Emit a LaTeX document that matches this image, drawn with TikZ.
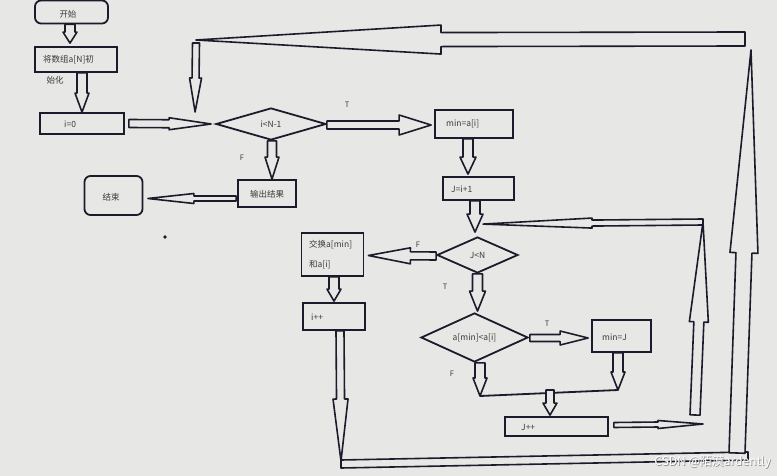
\documentclass[tikz,border=0pt]{standalone}
\usepackage{fontspec}
\setmainfont{Noto Sans CJK SC}
\usetikzlibrary{calc,shapes.geometric}
\definecolor{bg}{HTML}{E7E7E5}
\definecolor{ink}{HTML}{1B1B2B}
\definecolor{txtc}{HTML}{3A3A3A}
\tikzset{
  blk/.style={draw=ink, fill=bg, line width=1.6pt, line join=round},
  box/.style={draw=ink, line width=1.8pt, inner sep=0pt},
  dia/.style={diamond, draw=ink, line width=1.8pt, inner sep=0pt, shape aspect=3, text=txtc, font=\fontsize{8.5}{10}\selectfont},
  txt/.style={text=txtc, font=\fontsize{8.5}{10}\selectfont, inner sep=0pt},
  lab/.style={text=txtc, font=\fontsize{7.5}{9}\selectfont, inner sep=0pt},
  wmark/.style={font=\fontsize{12}{14}\selectfont, anchor=east, inner sep=0pt},
}
\newcommand\barrow[5]{%
  \coordinate (baA) at #1;
  \coordinate (baB) at #2;
  \coordinate (baH) at ($(baB)!#5!(baA)$);
  \draw[blk] ($(baA)!#3!90:(baB)$) -- ($(baH)!#3!-90:(baA)$) -- ($(baH)!#4!-90:(baA)$) -- (baB) -- ($(baH)!#4!90:(baA)$) -- ($(baH)!#3!90:(baA)$) -- ($(baA)!#3!-90:(baB)$) -- cycle;}
\begin{document}
\begin{tikzpicture}[x=1pt,y=-1pt]
\fill[bg] (0,0) rectangle (777,476);
\useasboundingbox (0,0) rectangle (777,476);

% nodes
\node[box, rounded corners=6pt, minimum width=73pt, minimum height=23pt] (start) at (71.5,12) {};
\node[txt] (startt) at (68,14) {开始};
\node[box, minimum width=82pt, minimum height=25pt] (init) at (76,59.5) {};
\node[txt, anchor=west] (initt) at (43,60) {将数组a[N]初};
\node[txt] (initt2) at (55,80) {始化};
\node[box, minimum width=84pt, minimum height=21pt] (i0) at (82,123.5) {};
\node[txt, anchor=west] (i0t) at (64,124) {i=0};
\node[dia, minimum width=110pt, minimum height=32pt] (d1) at (271,124) {i<N-1};
\node[box, minimum width=78pt, minimum height=28pt] (mina) at (474,124) {};
\node[txt, anchor=west] (minat) at (446,124) {min=a[i]};
\node[box, minimum width=71pt, minimum height=23pt] (jinit) at (478.5,188.5) {};
\node[txt, anchor=west] (jinitt) at (451,189) {J=i+1};
\node[dia, minimum width=81pt, minimum height=36pt] (d2) at (477.5,255) {J<N};
\node[box, minimum width=62pt, minimum height=43pt] (swap) at (332.5,254.5) {};
\node[txt, anchor=west] (swapt1) at (309,245) {交换a[min]};
\node[txt, anchor=west] (swapt2) at (309,265) {和a[i]};
\node[box, minimum width=62pt, minimum height=27pt] (ipp) at (334,316.5) {};
\node[txt, anchor=west] (ippt) at (311,317) {i++};
\node[dia, minimum width=107pt, minimum height=49pt] (d3) at (474.5,337.5) {a[min]<a[i]};
\node[box, minimum width=59pt, minimum height=32pt] (minj) at (621.5,336) {};
\node[txt, anchor=west] (minjt) at (602,337) {min=J};
\node[box, minimum width=103pt, minimum height=19pt] (jpp) at (556.5,426.5) {};
\node[txt, anchor=west] (jppt) at (521,427) {J++};
\node[box, minimum width=58pt, minimum height=27pt] (out) at (267,193.5) {};
\node[txt] (outt) at (267,194) {输出结果};
\node[box, rounded corners=6pt, minimum width=58pt, minimum height=39pt] (end) at (113.5,195.5) {};
\node[txt] (endt) at (111,197) {结束};

% branch labels
\node[lab] (t1) at (347,105) {T};
\node[lab] (f1) at (242,158) {F};
\node[lab] (f2) at (418,245) {F};
\node[lab] (t2) at (445,287) {T};
\node[lab] (t3) at (547,324) {T};
\node[lab] (f3) at (452,374) {F};

% free coordinates
\coordinate (corner) at (196,40);
\coordinate (tr) at (745,39);
\coordinate (br) at (737,453);
\coordinate (trtip) at (751,50);
\coordinate (jr) at (703,222);
\coordinate (ju) at (695,415);
\coordinate (jt) at (703,424);
\coordinate (mL) at (480,396);
\coordinate (mR) at (618,390);
\coordinate (bl) at (341,461);

% bottom bar
\draw[blk] ($(bl)+(0,-1)$) -- ($(br)+(11,-1)$) -- ($(br)+(11,7)$) -- ($(bl)+(0,7)$) -- cycle;

% block arrows
\barrow{($(start.south)+(-1.5,0)$)}{($(init.north)+(-6,-3)$)}{5pt}{7pt}{11pt}
\barrow{($(init.south)+(6,0)$)}{(i0.north)}{5pt}{7pt}{19pt}
\barrow{($(i0.east)+(4,0)$)}{($(d1.west)+(-4,0)$)}{4pt}{6pt}{42pt}
\barrow{($(corner)+(0,3)$)}{($(d1.west)+(-20,-12)$)}{3.5pt}{6pt}{34pt}
\barrow{(tr)}{(corner)}{7pt}{14.5pt}{245pt}
\barrow{(br)}{(trtip)}{8pt}{14pt}{203pt}
\barrow{($(d1.east)+(0,1)$)}{($(mina.west)+(-3,1)$)}{4pt}{10pt}{32pt}
\barrow{($(mina.south)+(-6,0)$)}{($(jinit.north)+(-10.5,-2)$)}{5pt}{8pt}{17pt}
\barrow{($(jinit.south)+(-3.5,0)$)}{($(d2.north)+(-2.5,-4)$)}{5pt}{8pt}{18pt}
\barrow{(ju)}{(jr)}{5pt}{9.5pt}{100pt}
\barrow{(jr)}{($(d2.north)+(5.5,-12)$)}{3pt}{5pt}{109pt}
\barrow{($(d2.west)+(0,1)$)}{($(swap.east)+(4,1)$)}{4pt}{8pt}{42pt}
\barrow{($(swap.south)+(1.5,0)$)}{($(ipp.north)+(0,-1)$)}{5pt}{7pt}{12pt}
\barrow{(d2.south)}{($(d3.north)+(3,-1)$)}{5pt}{8pt}{20pt}
\barrow{($(d3.east)+(1,0.5)$)}{($(minj.west)+(-3,2)$)}{3.5pt}{7pt}{28pt}
\barrow{($(d3.south)+(5.5,0)$)}{(mL)}{5pt}{7pt}{18pt}
\barrow{($(minj.south)+(-3.5,0)$)}{(mR)}{5pt}{7pt}{18pt}
\draw[ink, line width=1.8pt] (mL) -- (mR);
\barrow{($(mL)!0.507!(mR)+(0,-3)$)}{($(jpp.north)+(-6.5,-1)$)}{4pt}{7pt}{12pt}
\barrow{($(jpp.east)+(5,-1.5)$)}{(jt)}{2.5pt}{4pt}{45pt}
\barrow{($(ipp.south)+(6,0)$)}{(bl)}{4pt}{7.5pt}{62pt}
\barrow{($(out.west)+(-1,5)$)}{($(end.east)+(4.5,3)$)}{2.5pt}{5pt}{46pt}
\barrow{($(d1.south)+(1,0)$)}{($(out.north)+(5,0)$)}{4.5pt}{7pt}{22pt}

% speck
\fill[ink] (165,237) circle (1.8pt);

% watermark
\node[wmark, text=black!45] (wms) at (771.7,462.7) {CSDN @陌漠ardently};
\node[wmark, text=white] (wm) at (771,462) {CSDN @陌漠ardently};
\end{tikzpicture}
\end{document}
